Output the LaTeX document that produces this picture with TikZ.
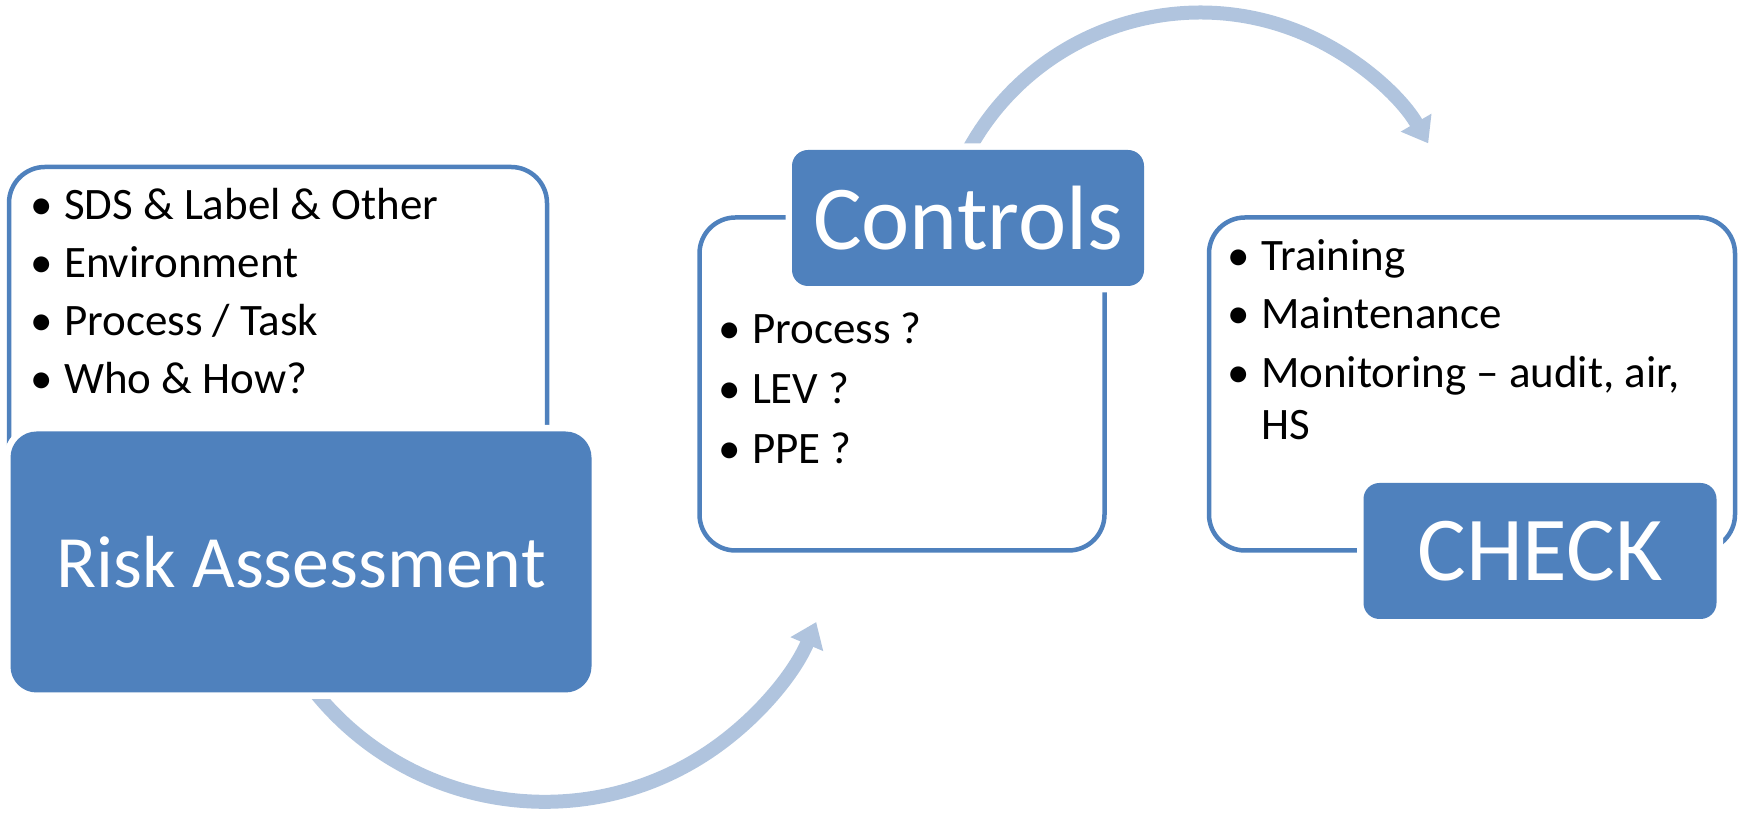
\documentclass[tikz,border=0pt]{standalone}
\usepackage{fontspec}
\setmainfont{Carlito}
\usetikzlibrary{arrows.meta}
\definecolor{accent}{RGB}{79,129,189}
\definecolor{flowblue}{RGB}{176,196,222}
\newcommand{\itm}[1]{\textbullet\hspace{1.1mm}\begin{tabular}[t]{@{}l@{}}#1\end{tabular}}

\tikzset{
  panel/.style={draw=accent, line width=0.45mm, fill=white, inner sep=0pt, rounded corners=3.6mm},
  block/.style={fill=accent, text=white, inner sep=0pt, rounded corners=1.6mm,
    preaction={draw=white, line width=1.3mm}},
  item/.style={anchor=base west, inner sep=0pt, font=\fontsize{12.8}{14.7}\selectfont},
  flow/.style={draw=flowblue, line width=1.4mm, -{Triangle[length=2.4mm, width=3.4mm]}}
}

\begin{document}
\begin{tikzpicture}[x=0.1mm, y=0.1mm]
        \useasboundingbox (0,0) rectangle (1742,817);
        % Curved arrows behind the boxes
        \coordinate (ra-out) at (303,141);
        \coordinate (ctl-out) at (961,652);
        \draw [flow] (ra-out) arc [start angle=215, end angle=337, radius=29.5mm];
        \draw [flow] (ctl-out) arc [start angle=155, end angle=30.3, radius=26.4mm];
        % White panels with the bullet lists
        \node [panel, minimum width=53.8mm, minimum height=40mm] (ra-panel) at (278,450) {};
        \node [panel, minimum width=40.5mm, minimum height=33.3mm] (ctl-panel) at (902,433) {};
        \node [panel, minimum width=52.6mm, minimum height=33.3mm] (chk-panel) at (1472,433) {};
        \foreach \txt/\yy [count=\i] in {{SDS \& Label \& Other}/597, Environment/539, {Process / Task}/481, {Who \& How?}/423}
          \node [item] (ra-\i) at (30,\yy) {\itm{\txt}};
        \foreach \txt/\yy [count=\i] in {{Process ?}/473, {LEV ?}/413, {PPE ?}/353}
          \node [item] (ctl-\i) at (718,\yy) {\itm{\txt}};
        \foreach \txt/\yy [count=\i] in {Training/546, Maintenance/488, {Monitoring -- audit, air,\\HS}/429}
          \node [item] (chk-\i) at (1227,\yy) {\itm{\txt}};
        % Blue title boxes on top
        \node [block, minimum width=58.1mm, minimum height=26.1mm, rounded corners=2.6mm,
               font=\fontsize{21}{25}\selectfont] (ra) at (301,255) {Risk Assessment};
        \node [block, minimum width=35.2mm, minimum height=13.6mm,
               font=\fontsize{26}{30}\selectfont] (ctl) at (968,599) {Controls};
        \node [block, minimum width=35.3mm, minimum height=13.6mm,
               font=\fontsize{26}{30}\selectfont] (chk) at (1540,266) {CHECK};
      \end{tikzpicture}
\end{document}
